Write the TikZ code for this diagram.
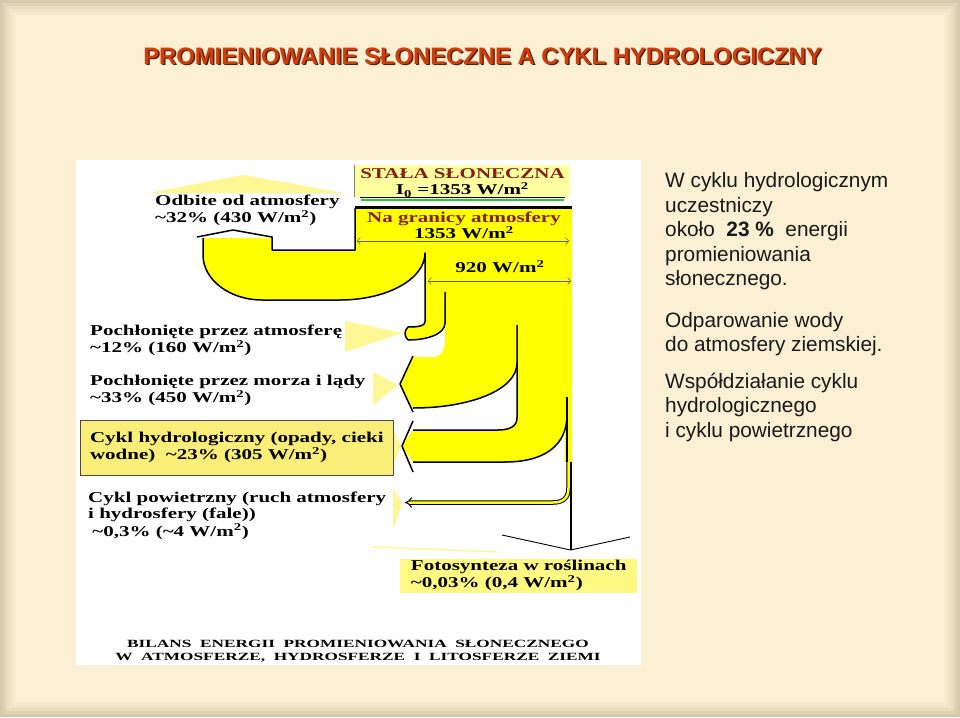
\documentclass[tikz,border=0pt]{standalone}
\usepackage{fontspec}
\usepackage{graphicx}
\setmainfont{Liberation Serif}
\newfontfamily\sansfont{Liberation Sans}
\usetikzlibrary{arrows.meta}

\definecolor{bgedge}{RGB}{214,202,170}
\definecolor{bgin}{RGB}{252,240,212}
\definecolor{flowyellow}{RGB}{255,255,0}
\definecolor{paleyellow}{RGB}{255,247,150}
\definecolor{boxyellow}{RGB}{250,238,120}
\definecolor{capyellow}{RGB}{255,255,160}
\definecolor{fotoyellow}{RGB}{255,248,130}
\definecolor{darkred}{RGB}{135,30,20}
\definecolor{titlered}{RGB}{205,62,12}
\definecolor{titleshadow}{RGB}{95,30,5}
\definecolor{glow}{RGB}{40,200,40}

% stretched bitmap-like lettering of the scanned figure
\newcommand{\wide}[2][1.4]{\scalebox{#1}[1]{\begin{tabular}{@{}l@{}}#2\end{tabular}}}
\newcommand{\widec}[2][1.4]{\scalebox{#1}[1]{\begin{tabular}{@{}c@{}}#2\end{tabular}}}
\newcommand{\wm}{W/m\textsuperscript{2}}

\begin{document}
\begin{tikzpicture}[
  x=1pt, y=-1pt,
  lbl/.style={font=\fontsize{15}{16.5}\selectfont\bfseries, inner sep=0pt, anchor=west},
  flowline/.style={line width=1.5pt, line join=round},
  dimline/.style={draw=gray!70!black, line width=0.5pt,
    {Straight Barb[length=3pt,width=7pt]}-{Straight Barb[length=3pt,width=7pt]}},
  pale/.style={fill=paleyellow},
  sidetext/.style={font=\sansfont\fontsize{20.8}{24.5}\selectfont, text=black!90,
    inner sep=0pt, anchor=north west, align=left}
]
  \useasboundingbox (0,0) rectangle (960,717);
  % slide background
  \foreach \d/\c in {0/100,3/75,6/50,9/30,12/12,15/0}
    \fill[bgedge!\c!bgin] (\d,\d) rectangle (960-\d,717-\d);
  \node[font=\sansfont\bfseries\fontsize{23.8}{23.8}\selectfont, text=titleshadow, inner sep=0pt]
    (cien) at (484,57.5) {PROMIENIOWANIE SŁONECZNE A CYKL HYDROLOGICZNY};
  \node[font=\sansfont\bfseries\fontsize{23.8}{23.8}\selectfont, text=titlered, inner sep=0pt]
    (tytul) at (482.5,56) {PROMIENIOWANIE SŁONECZNE A CYKL HYDROLOGICZNY};

  % figure panel
  \fill[white] (76,160) rectangle (641,665);

  % pale pointers
  \fill[pale] (148,193) -- (243,175) -- (345,193) -- cycle;
  \fill[pale] (345,321) -- (403,333) -- (345,352) -- cycle;
  \fill[pale] (373,372) -- (398,385) -- (373,405) -- cycle;
  \fill[pale] (393,428) -- (401,446) -- (393,465) -- cycle;
  \fill[pale] (393,488) -- (402,503) -- (393,530) -- cycle;
  \draw[paleyellow, line width=1.5pt] (373,547) -- (497,552);

  % energy flows
  \fill[flowyellow] (355,208) rectangle (572,253);
  \fill[flowyellow] (203,238) -- (272,238) -- (272,250) -- (355,250) -- (355,208) -- (425,208)
    -- (425,253) .. controls (425,279) and (387,300) .. (340,300) -- (262,300)
    .. controls (230,300) and (203,280) .. (203,255) -- cycle;
  \fill[flowyellow] (425,252) -- (445,252) -- (445,323) .. controls (445,335) and (425,340) .. (408,340)
    .. controls (404,336) and (404,331) .. (408,327) .. controls (418,327) and (425,326) .. (425,322) -- cycle;
  \fill[flowyellow] (445,252) -- (517,252) -- (517,363) .. controls (517,390) and (470,408) .. (413,408)
    -- (400,384) -- (413,357) -- (433,357) .. controls (441,357) and (445,350) .. (445,340) -- cycle;
  \fill[flowyellow] (517,252) -- (567,252) -- (567,415) .. controls (567,445) and (545,462) .. (505,462)
    -- (413,462) -- (402,446) -- (413,430) -- (498,430) .. controls (510,430) and (517,426) .. (517,418) -- cycle;
  \fill[flowyellow] (565,252) rectangle (572,462);

  \draw[line width=3pt] (355,207) -- (572,207);
  \draw[flowline] (197,237) -- (233,230) -- (272,237) -- (272,250) -- (355,250) -- (355,208);
  \draw[flowline] (203,238) -- (203,255) .. controls (203,280) and (230,300) .. (262,300) -- (340,300)
    .. controls (387,300) and (425,279) .. (425,253) -- (425,322)
    .. controls (425,326) and (418,327) .. (408,327) .. controls (404,331) and (404,336) .. (408,340)
    .. controls (425,340) and (445,335) .. (445,323) -- (445,292);
  \draw[flowline] (517,325) -- (517,418) .. controls (517,426) and (510,430) .. (498,430) -- (413,430);
  \draw[flowline] (413,408) .. controls (470,408) and (517,390) .. (517,363);
  \draw[flowline] (413,356) -- (400,384) -- (413,412);
  \draw[flowline] (413,421) -- (402,446) -- (413,472);
  \draw[flowline] (413,462) -- (505,462) .. controls (545,462) and (567,445) .. (567,415);
  \draw[flowline] (567,397) -- (567,462);
  \draw[double=flowyellow, double distance=2.5pt, line width=1pt, -{Implies}]
    (568.5,462) -- (568.5,488) .. controls (568.5,498) and (563,502.5) .. (553,502.5) -- (405,502.5);
  \draw[line width=2pt] (570.5,462) -- (570.5,550);
  \draw[line width=0.9pt] (502,535) -- (570.5,550) -- (630,537);

  \draw[dimline] (357,241) -- (569,241);
  \draw[dimline] (428,281) -- (571,281);

  % labels of the figure
  \node[fill=capyellow, minimum width=215pt, minimum height=32pt, inner sep=0pt,
    font=\fontsize{15}{15}\selectfont\bfseries] (stala) at (462.5,181) {};
  \node[font=\fontsize{15}{15}\selectfont\bfseries, inner sep=0pt] (stalatxt) at (462.5,183.5)
    {\widec{\color{darkred}STAŁA SŁONECZNA\\I\textsubscript{0} =1353 \wm}};
  \draw[gray, line width=1pt] (stala.north west) -- (stala.south west);
  \draw[line width=0.8pt] ([xshift=5pt]stala.south west) -- ([xshift=-5pt]stala.south east);
  \draw[glow, line width=2pt] ([xshift=6pt,yshift=-2.5pt]stala.south west) -- ([xshift=-6pt,yshift=-2.5pt]stala.south east);
  \node[lbl, anchor=center, font=\fontsize{15}{15}\selectfont\bfseries] (granica) at (464,227.5)
    {\widec{\color{darkred}Na granicy atmosfery\\1353 \wm}};
  \node[lbl, anchor=center] (w920) at (500,269) {\wide{920 \wm}};

  \node[lbl] (odbite) at (155,211) {\wide{Odbite od atmosfery\\\textasciitilde32\% (430 \wm)}};
  \node[lbl] (atm) at (90,341) {\wide{Pochłonięte przez atmosferę\\\textasciitilde12\% (160 \wm)}};
  \node[lbl] (morza) at (90,391) {\wide{Pochłonięte przez morza i lądy\\\textasciitilde33\% (450 \wm)}};
  \node[lbl, anchor=north west, fill=boxyellow, draw=black!70, line width=0.8pt,
    minimum width=313pt, minimum height=55pt] (hydro) at (80,420)
    {\wide{Cykl hydrologiczny (opady, cieki\\wodne)\ \ \textasciitilde23\% (305 \wm)}};
  \node[lbl] (powietrze) at (88,516)
    {\wide{Cykl powietrzny (ruch atmosfery\\i hydrosfery (fale))\\\hspace{3pt}\textasciitilde0,3\% (\textasciitilde4 \wm)}};
  \node[lbl, anchor=north west, fill=fotoyellow, minimum width=237pt, minimum height=32pt] (foto) at (400,559)
    {\wide{Fotosynteza w roślinach\\\textasciitilde0,03\% (0,4 \wm)}};
  \node[lbl, anchor=center, font=\fontsize{11}{13}\selectfont\bfseries] (bilans) at (358,651)
    {\widec[1.57]{BILANS\ \ ENERGII\ \ PROMIENIOWANIA\ \ SŁONECZNEGO\\W\ \ ATMOSFERZE,\ \ HYDROSFERZE\ \ I\ \ LITOSFERZE\ \ ZIEMI}};

  % side comment
  \node[sidetext] (opis) at (665,172.5)
    {W cyklu hydrologicznym\\uczestniczy\\około\ \ \textbf{23 \%}\ \ energii\\promieniowania\\słonecznego.\\[17pt]
     Odparowanie wody\\do atmosfery ziemskiej.\\[12pt]
     Współdziałanie cyklu\\hydrologicznego\\i cyklu powietrznego};
\end{tikzpicture}
\end{document}
